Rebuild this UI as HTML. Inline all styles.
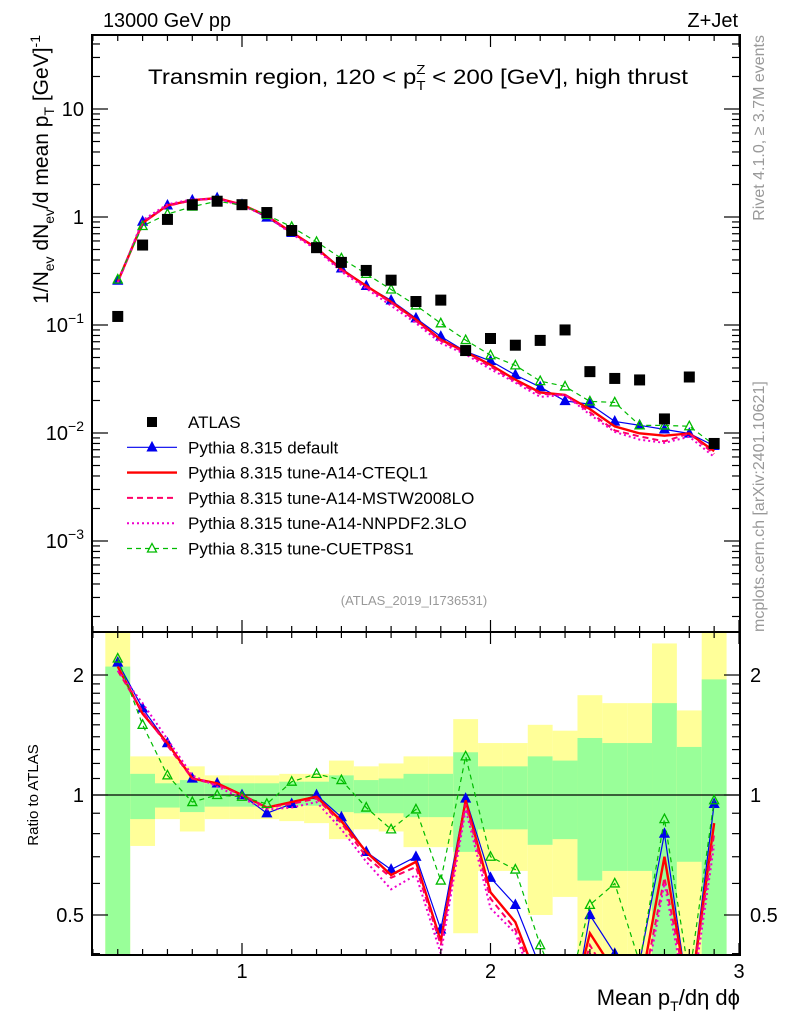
<!DOCTYPE html>
<html><head><meta charset="utf-8"><style>
body{margin:0;background:#fff;}
svg{display:block;font-family:"Liberation Sans",sans-serif;}
</style></head><body>
<svg id="c" width="786" height="1024" viewBox="0 0 786 1024" xmlns="http://www.w3.org/2000/svg">
<text x="103" y="27" font-size="20" textLength="128" lengthAdjust="spacingAndGlyphs">13000 GeV pp</text>
<text x="738" y="27" font-size="20" text-anchor="end">Z+Jet</text>
<text x="148" y="84" font-size="21" textLength="540" lengthAdjust="spacingAndGlyphs">Transmin region, 120 &lt; p<tspan font-size="13" dy="6">T</tspan><tspan font-size="13" dx="-8" dy="-16">Z</tspan><tspan dy="10"> &lt; 200 [GeV], high thrust</tspan></text>
<text x="414" y="605" font-size="13" fill="#999" text-anchor="middle">(ATLAS_2019_I1736531)</text>
<text transform="translate(764,35) rotate(-90)" font-size="16" fill="#999" text-anchor="end">Rivet 4.1.0, ≥ 3.7M events</text>
<text transform="translate(764,632) rotate(-90)" font-size="16" fill="#999">mcplots.cern.ch [arXiv:2401.10621]</text>
<text transform="translate(48,35) rotate(-90)" font-size="21" text-anchor="end">1/N<tspan font-size="14" dy="6">ev</tspan><tspan dy="-6"> dN</tspan><tspan font-size="14" dy="6">ev</tspan><tspan dy="-6">/d mean p</tspan><tspan font-size="14" dy="6">T</tspan><tspan dy="-6"> [GeV]</tspan><tspan font-size="14" dy="-8">-1</tspan></text>
<text transform="translate(38,795) rotate(-90)" font-size="15" text-anchor="middle">Ratio to ATLAS</text>
<text x="740" y="1005" font-size="22" text-anchor="end">Mean p<tspan font-size="14" dy="6">T</tspan><tspan dy="-6">/dη dϕ</tspan></text>
<g id="g"></g>
</svg>
<script>
const binCenters=[0.5,0.6,0.7,0.8,0.9,1.0,1.1,1.2,1.3,1.4,1.5,1.6,1.7,1.8,1.9,2.0,2.1,2.2,2.3,2.4,2.5,2.6,2.7,2.8,2.9];
const atlasValues=[0.12,0.55,0.95,1.3,1.4,1.3,1.1,0.75,0.52,0.38,0.32,0.26,0.165,0.17,0.058,0.075,0.065,0.072,0.09,0.037,0.032,0.031,0.0135,0.033,0.008];
const ratioDefault=[2.15,1.65,1.35,1.1,1.07,1.0,0.9,0.95,1.0,0.88,0.72,0.65,0.7,0.46,0.98,0.62,0.53,0.37,0.22,0.5,0.4,0.38,0.8,0.3,0.95];
const ratioCTEQ=[2.1,1.6,1.35,1.1,1.07,1.0,0.93,0.96,0.99,0.86,0.72,0.63,0.68,0.43,0.97,0.57,0.48,0.33,0.25,0.45,0.36,0.32,0.7,0.3,0.85];
const ratioMSTW=[2.05,1.62,1.33,1.1,1.06,1.0,0.93,0.95,0.98,0.85,0.7,0.62,0.66,0.42,0.95,0.55,0.46,0.32,0.25,0.42,0.33,0.3,0.62,0.3,0.8];
const ratioNNPDF=[2.05,1.7,1.38,1.12,1.05,0.98,0.92,0.93,0.96,0.82,0.68,0.58,0.63,0.4,0.92,0.52,0.45,0.3,0.25,0.4,0.32,0.28,0.6,0.28,0.75];
const ratioCUETP=[2.2,1.5,1.12,0.96,1.0,0.99,0.95,1.08,1.13,1.09,0.93,0.82,0.92,0.61,1.25,0.7,0.65,0.42,0.3,0.53,0.6,0.38,0.87,0.35,0.97];
const yellowHi=[3,1.25,1.25,1.18,1.12,1.12,1.12,1.13,1.13,1.22,1.18,1.2,1.25,1.25,1.55,1.35,1.35,1.5,1.45,1.78,1.7,1.7,2.4,1.63,3];
const yellowLo=[0.3,0.745,0.87,0.81,0.87,0.87,0.87,0.86,0.85,0.775,0.82,0.81,0.74,0.74,0.45,0.645,0.645,0.5,0.555,0.3,0.3,0.3,0.3,0.3,0.3];
const greenHi=[2.1,1.13,1.07,1.09,1.07,1.07,1.07,1.08,1.08,1.12,1.09,1.1,1.13,1.13,1.28,1.18,1.18,1.25,1.22,1.39,1.35,1.35,1.7,1.32,1.95];
const greenLo=[0.3,0.87,0.93,0.906,0.935,0.935,0.935,0.94,0.94,0.906,0.9,0.9,0.88,0.88,0.72,0.82,0.82,0.75,0.775,0.61,0.645,0.645,0.3,0.68,0.3];
const xTickLabels=["1","2","3"];
const mainTickLabels=["10","1","10^-1","10^-2","10^-3"];
const ratioTickLabels=["0.5","1","2"];

const L=92,R=740,T=35,MB=632,B=955;
const X=v=>242+(v-1)*248.5;
const Ym=v=>217-Math.log10(v)*108;
const Yr=v=>795-Math.log10(v)*398.6;
const NS="http://www.w3.org/2000/svg";
const G=document.getElementById('g');
function el(tag,attrs,parent){const e=document.createElementNS(NS,tag);for(const k in attrs)e.setAttribute(k,attrs[k]);(parent||G).appendChild(e);return e;}

const bands=el('g',{});


binCenters.forEach((c,i)=>{
  const x0=X(c-0.05),x1=X(c+0.05);
  const yt=Math.max(Yr(yellowHi[i]),MB),yb=Math.min(Yr(yellowLo[i]),B);
  const r=el('rect',{x:x0,y:yt,width:x1-x0,height:yb-yt,fill:'#ffff99'},bands);
  
  
  const gt=Math.max(Yr(greenHi[i]),MB),gb=Math.min(Yr(greenLo[i]),B);
  const r2=el('rect',{x:x0,y:gt,width:x1-x0,height:gb-gt,fill:'#99ff99'},bands);
  
  
});
el('line',{x1:L,x2:R,y1:795,y2:795,stroke:'#000','stroke-width':1.2});

const series=[
 {name:'pythia-default',r:ratioDefault,color:'#0000ee',w:1.2,dash:'',marker:'tri'},
 {name:'pythia-a14-cteql1',r:ratioCTEQ,color:'#ff0000',w:2.4,dash:'',marker:''},
 {name:'pythia-a14-mstw2008lo',r:ratioMSTW,color:'#ff0066',w:2,dash:'6,4',marker:''},
 {name:'pythia-a14-nnpdf23lo',r:ratioNNPDF,color:'#ee00cc',w:2,dash:'2,3',marker:''},
 {name:'pythia-cuetp8s1',r:ratioCUETP,color:'#00bb00',w:1.2,dash:'5,4',marker:'otri'}
];
const defs=el('defs',{});
const cm=el('clipPath',{id:'cm'},defs);el('rect',{x:L,y:T,width:R-L,height:MB-T},cm);
const cr=el('clipPath',{id:'cr'},defs);el('rect',{x:L,y:MB,width:R-L,height:B-MB},cr);

function tri(g,x,y,col,open){
  const p=el('path',{d:`M${x},${y-5}L${x+4.5},${y+3.5}L${x-4.5},${y+3.5}Z`,fill:open?'none':col,stroke:col,'stroke-width':1.3},g);
  
  
}
series.forEach(s=>{
  const gm=el('g',{'clip-path':'url(#cm)'});
  
  
  const pm=binCenters.map((c,i)=>X(c)+','+Ym(s.r[i]*atlasValues[i])).join(' ');
  el('polyline',{points:pm,fill:'none',stroke:s.color,'stroke-width':s.w,'stroke-dasharray':s.dash},gm);
  const gr=el('g',{'clip-path':'url(#cr)'});
  
  
  const pr=binCenters.map((c,i)=>X(c)+','+Yr(s.r[i])).join(' ');
  el('polyline',{points:pr,fill:'none',stroke:s.color,'stroke-width':s.w,'stroke-dasharray':s.dash},gr);
  if(s.marker){binCenters.forEach((c,i)=>{tri(gm,X(c),Ym(s.r[i]*atlasValues[i]),s.color,s.marker==='otri');tri(gr,X(c),Yr(s.r[i]),s.color,s.marker==='otri');});}
});
const ga=el('g',{});


binCenters.forEach((c,i)=>{
  const r=el('rect',{x:X(c)-5.5,y:Ym(atlasValues[i])-5.5,width:11,height:11,fill:'#000'},ga);
  
  
});

el('rect',{x:L,y:T,width:R-L,height:MB-T,fill:'none',stroke:'#000','stroke-width':2});
el('rect',{x:L,y:MB,width:R-L,height:B-MB,fill:'none',stroke:'#000','stroke-width':2});
for(let k=4;k<=30;k++){const v=k/10,x=X(v),maj=k%10===0;const l=maj?12:6;
  [[T,1],[MB,-1],[MB,1],[B,-1]].forEach(([y,d])=>el('line',{x1:x,x2:x,y1:y,y2:y+d*l,stroke:'#000','stroke-width':1.2}));}
xTickLabels.forEach(t=>{const e=el('text',{x:X(+t),y:978,'font-size':20,'text-anchor':'middle'});e.textContent=t;
  
  });
for(let d=-4;d<=1;d++){for(let m=1;m<=9;m++){const v=m*Math.pow(10,d),y=Ym(v);if(y<T||y>MB)continue;const l=m===1?16:8;
  el('line',{x1:L,x2:L+l,y1:y,y2:y,stroke:'#000','stroke-width':1.2});el('line',{x1:R,x2:R-l,y1:y,y2:y,stroke:'#000','stroke-width':1.2});}}
mainTickLabels.forEach(t=>{const parts=t.split('^');const v=parts.length>1?Math.pow(10,+parts[1]):+t;
  const e=el('text',{x:84,y:Ym(v)+7,'font-size':20,'text-anchor':'end'});
  
  
  if(parts.length>1){e.innerHTML=parts[0]+'<tspan font-size="14" dy="-9">'+parts[1].replace('-','\u2212')+'</tspan>';}else e.textContent=t;});
[0.4,0.5,0.6,0.7,0.8,0.9,1,1.1,1.2,1.3,1.4,1.5,1.6,1.7,1.8,1.9,2].forEach(v=>{const y=Yr(v);const maj=(v===0.5||v===1||v===2);const l=maj?16:8;
  el('line',{x1:L,x2:L+l,y1:y,y2:y,stroke:'#000','stroke-width':1.2});el('line',{x1:R,x2:R-l,y1:y,y2:y,stroke:'#000','stroke-width':1.2});});
ratioTickLabels.forEach(t=>{[[84,'end'],[750,'start']].forEach(([x,a])=>{const e=el('text',{x:x,y:Yr(+t)+7,'font-size':20,'text-anchor':a});e.textContent=t;
  
  });});

const legendLabels=["ATLAS","Pythia 8.315 default","Pythia 8.315 tune-A14-CTEQL1","Pythia 8.315 tune-A14-MSTW2008LO","Pythia 8.315 tune-A14-NNPDF2.3LO","Pythia 8.315 tune-CUETP8S1"];
const lg=el('g',{});


legendLabels.forEach((t,i)=>{const y=422+i*25.3;
  const e=el('text',{x:188,y:y+6,'font-size':17},lg);e.textContent=t;
  
  
  if(i===0){el('rect',{x:147,y:y-5,width:10,height:10,fill:'#000'},lg);}
  else{const s=series[i-1];el('line',{x1:127,x2:177,y1:y,y2:y,stroke:s.color,'stroke-width':s.w,'stroke-dasharray':s.dash},lg);
    if(s.marker)tri(lg,152,y,s.color,s.marker==='otri');}
});
</script>
</body></html>
